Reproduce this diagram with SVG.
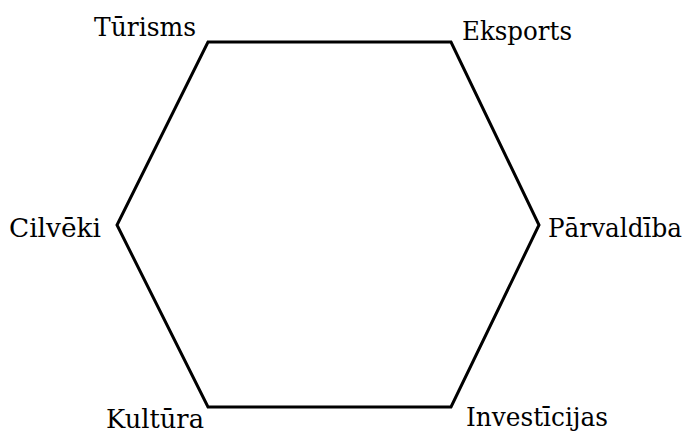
<svg xmlns="http://www.w3.org/2000/svg" width="688" height="434" viewBox="0 0 688 434">
<style>
text{font-family:'DejaVu Serif',serif;font-size:26px;fill:#000}
.edge{fill:none;stroke:#000;stroke-width:3;stroke-linejoin:miter}
</style>
<rect width="688" height="434" fill="#fff"/>
<g id="connectors">
<polygon class="edge" points="208,42 451,42 539,225 451,407 208,407 117,225"/>
</g>
<g id="turisms"><text x="94" y="36" textLength="102" lengthAdjust="spacingAndGlyphs">Tūrisms</text></g>
<g id="eksports"><text x="462" y="40" textLength="110" lengthAdjust="spacingAndGlyphs">Eksports</text></g>
<g id="cilveki"><text x="9" y="237" textLength="92" lengthAdjust="spacingAndGlyphs">Cilvēki</text></g>
<g id="parvaldiba"><text x="548" y="237" font-size="25" textLength="134" lengthAdjust="spacingAndGlyphs">Pārvaldība</text></g>
<g id="kultura"><text x="106" y="428" textLength="98" lengthAdjust="spacingAndGlyphs">Kultūra</text></g>
<g id="investicijas"><text x="466" y="426" textLength="142" lengthAdjust="spacingAndGlyphs">Investīcijas</text></g>
</svg>
